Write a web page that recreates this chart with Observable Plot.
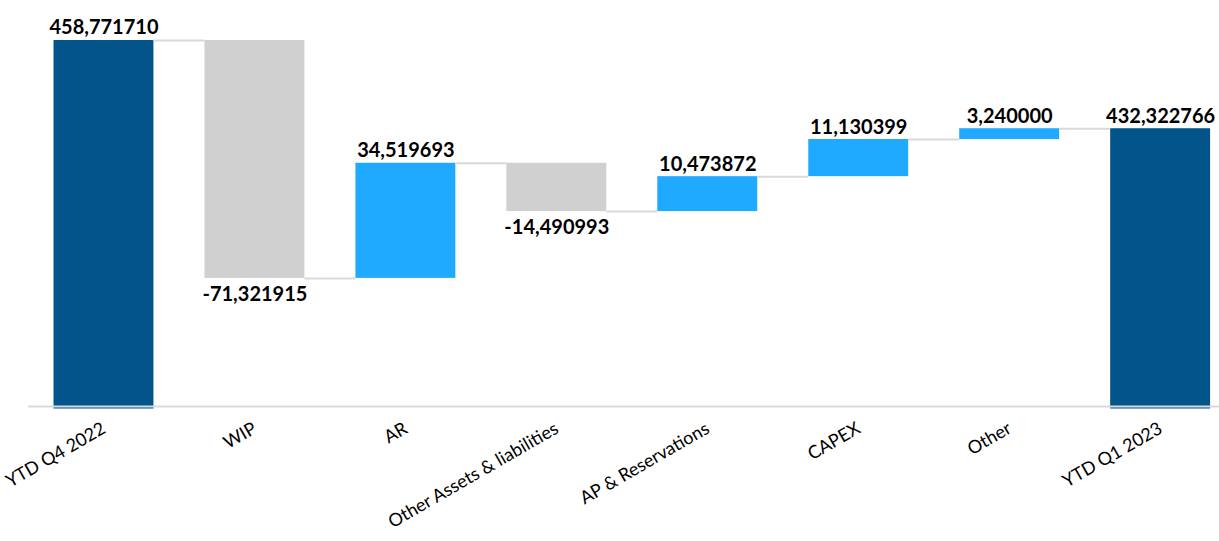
<!DOCTYPE html>
<html>
<head>
<meta charset="utf-8">
<script src="https://cdn.jsdelivr.net/npm/d3@7"></script>
<script src="https://cdn.jsdelivr.net/npm/@observablehq/plot@0.6"></script>
<style>
  html, body { margin: 0; padding: 0; background: #fff; }
  #chart svg { display: block; }
</style>
</head>
<body>
<div id="chart"></div>
<script>
const categories = ["YTD Q4 2022", "WIP", "AR", "Other Assets & liabilities", "AP & Reservations", "CAPEX", "Other", "YTD Q1 2023"];
const values = [458.771710, -71.321915, 34.519693, -14.490993, 10.473872, 11.130399, 3.240000, 432.322766];
const kinds = ["total", "delta", "delta", "delta", "delta", "delta", "delta", "total"];

const yMin = 348.3;
const axisValue = 349.05;
const half = 0.331;
const colors = { total: "#02548A", up: "#20AAFF", down: "#D0D0D0" };

let running = 0;
const rows = categories.map((c, i) => {
  let y1, y2, kind;
  if (kinds[i] === "total") {
    y1 = yMin; y2 = values[i]; running = values[i]; kind = "total";
  } else {
    y1 = running; y2 = running + values[i]; running = y2; kind = values[i] >= 0 ? "up" : "down";
  }
  return { i, c, v: values[i], y1, y2, kind, end: running,
           label: values[i].toFixed(6).replace(".", ",") };
});
const links = rows.slice(0, -1).map(r => ({ x1: r.i + half, x2: r.i + 1 - half, y: r.end }));

const font = "Lato, 'Open Sans', sans-serif";

const chart = Plot.plot({
  width: 1219,
  height: 541,
  marginTop: 0,
  marginLeft: 28,
  marginRight: 0,
  marginBottom: 132.5,
  style: { fontFamily: font, background: "#fff" },
  x: { domain: [-0.5, 7.39], axis: null },
  y: { domain: [yMin, 470.76], axis: null },
  marks: [
    Plot.rect(rows, { x1: d => d.i - half, x2: d => d.i + half, y1: "y1", y2: "y2",
      fill: d => colors[d.kind] }),
    Plot.ruleY(links, { x1: "x1", x2: "x2", y: "y", stroke: "#D9D9D9", strokeWidth: 2 }),
    Plot.ruleY([axisValue], { stroke: "#D9D9D9", strokeWidth: 2 }),
    Plot.text(rows.filter(d => d.v >= 0), { x: "i", y: "y2", text: "label", lineAnchor: "bottom", dy: -6,
      fontSize: 20, fontWeight: "bold", fill: "#000" }),
    Plot.text(rows.filter(d => d.v < 0), { x: "i", y: "y2", text: "label", lineAnchor: "top", dy: 8,
      fontSize: 20, fontWeight: "bold", fill: "#000" }),
    Plot.axisX(d3.range(categories.length), {
      tickFormat: i => categories[i], tickRotate: -30, tickSize: 0, tickPadding: 18,
      fontSize: 18, fill: "#000", textAnchor: "end"
    })
  ]
});
document.getElementById("chart").appendChild(chart);
</script>
</body>
</html>
